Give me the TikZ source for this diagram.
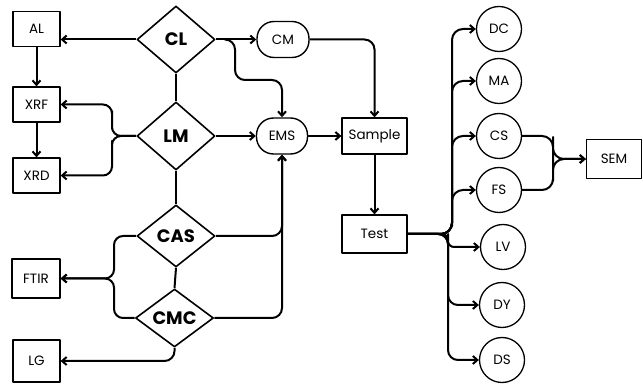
\documentclass[tikz,border=0pt]{standalone}
\usepackage{fontspec}
\setmainfont{Poppins}
\usetikzlibrary{shapes.geometric,arrows.meta,calc}
\begin{document}
\begin{tikzpicture}[x=1pt,y=-1pt, line join=round,
  box/.style={draw, line width=1.3pt, minimum width=47pt, minimum height=35pt, inner sep=0pt, font=\fontsize{13.5}{13.5}\selectfont},
  dia/.style={draw, diamond, line width=1.6pt, minimum width=78pt, minimum height=66pt, inner sep=0pt, font=\fontsize{18}{18}\selectfont\bfseries},
  pill/.style={draw, rounded corners=17pt, line width=1.4pt, minimum width=51pt, minimum height=36pt, inner sep=0pt, font=\fontsize{13.5}{13.5}\selectfont},
  circ/.style={draw, circle, line width=1.3pt, minimum size=45pt, inner sep=0pt, font=\fontsize{13.5}{13.5}\selectfont},
  conn/.style={line width=2pt, -{Straight Barb[length=4.5pt,width=8pt]}},
  lin/.style={line width=2pt}
]
\useasboundingbox (0,0) rectangle (643,387);
% left boxes
\node[box] (AL) at (36.5,29) {AL};
\node[box] (XRF) at (36.5,104.5) {XRF};
\node[box] (XRD) at (36.5,175.5) {XRD};
\node[box, minimum width=48pt, minimum height=39pt] (FTIR) at (36,278.5) {FTIR};
\node[box, minimum height=42pt] (LG) at (36.5,361) {LG};
% diamonds
\node[dia, minimum height=67pt] (CL) at (176,39.5) {CL};
\node[dia, minimum height=68pt] (LM) at (176,136) {LM};
\node[dia, minimum height=62pt] (CAS) at (176,236) {CAS};
\node[dia, minimum height=58pt] (CMC) at (174.5,318) {CMC};
% pills
\node[pill, minimum width=52pt] (CM) at (283,39.5) {CM};
\node[pill] (EMS) at (282,136) {EMS};
% process boxes
\node[box, minimum width=65pt, minimum height=36pt] (Sample) at (374.5,136) {Sample};
\node[box, minimum width=65pt, minimum height=38pt] (Test) at (374.5,234) {Test};
% circles
\node[circ] (DC) at (499,29) {DC};
\node[circ] (MA) at (499,81) {MA};
\node[circ] (CS) at (499,136) {CS};
\node[circ] (FS) at (499,190) {FS};
\node[circ] (LV) at (503,247) {LV};
\node[circ] (DY) at (502,305) {DY};
\node[circ] (DS) at (502,360) {DS};
\node[box, minimum width=55pt, minimum height=39pt] (SEM) at (614,159) {SEM};
% connectors
\draw[conn] (CL.west) -- (AL.east |- CL.west);
\draw[conn] (AL) -- (XRF);
\draw[conn] (XRF) -- (XRD);
\draw[conn, rounded corners=9pt] (LM.west) -| (112,120) |- (XRF.east);
\draw[conn, rounded corners=9pt] (LM.west) -| (112,150) |- (XRD.east);
\draw[conn] (CL.east) -- (CM.west);
\draw[conn, rounded corners=10pt] ($(CL.east)+(10,0)$) -| (235,60) |- (260,80) -| (EMS.north);
\draw[lin] (CL.south) -- (LM.north);
\draw[lin] (LM.south) -- (CAS.north);
\draw[lin] (CAS.south) -- (CMC.north);
\draw[conn] (LM.east) -- (EMS.west);
\draw[conn, rounded corners=10pt] (CM.east) -| (Sample.north);
\draw[conn] (EMS.east) -- (Sample.west);
\draw[conn] (Sample) -- (Test);
\draw[conn, rounded corners=10pt] (CAS.east) -| (EMS.south);
\draw[conn, rounded corners=10pt] (CMC.east) -| (EMS.south);
\draw[conn, rounded corners=9pt] (CAS.west) -| (114,260) |- (FTIR.east);
\draw[conn, rounded corners=9pt] (CMC.west) -| (114,300) |- (FTIR.east);
\draw[conn, rounded corners=10pt] (CMC.south) |- (LG.east);
\draw[conn, rounded corners=11pt] (Test.east) -| (452,200) |- (DC.west);
\draw[conn, rounded corners=11pt] (Test.east) -| (452,200) |- (MA.west);
\draw[conn, rounded corners=11pt] (Test.east) -| (452,200) |- (CS.west);
\draw[conn, rounded corners=11pt] (Test.east) -| (452,215) |- (FS.west);
\draw[conn, rounded corners=6pt] (Test.east) -| (448,240) |- (LV.west);
\draw[conn, rounded corners=10pt] (Test.east) -| (448,260) |- (DY.west);
\draw[conn, rounded corners=10pt] (Test.east) -| (448,260) |- (DS.west);
\draw[conn, rounded corners=11pt] (CS.east) -| (553,148) |- (SEM.west);
\draw[conn, rounded corners=11pt] (FS.east) -| (553,170) |- (SEM.west);
\end{tikzpicture}
\end{document}
